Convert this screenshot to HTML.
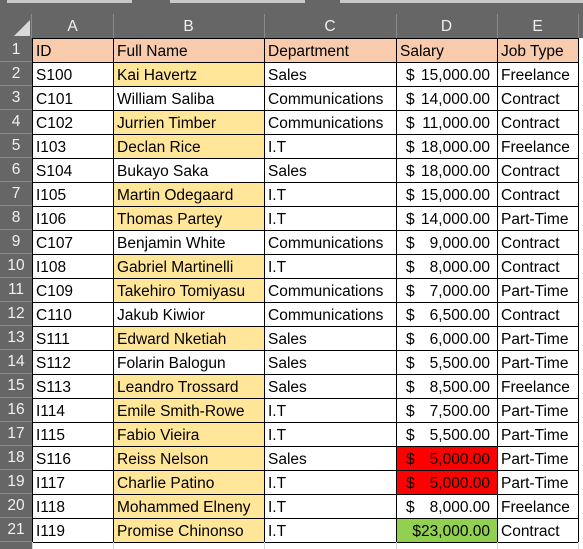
<!DOCTYPE html>
<html><head><meta charset="utf-8"><style>
body{margin:0;width:583px;height:549px;overflow:hidden;background:#fff;font-family:"Liberation Sans",Arial,sans-serif;}
#top{position:absolute;left:0;top:0;width:583px;height:38px;background:#666666;}
.tab{position:absolute;top:0;height:3px;background:#c9c9c9;}
.colh{position:absolute;top:14px;height:24px;color:#f0f0f0;font-size:15.5px;line-height:26px;text-align:center;border-right:1px solid #8a8a8a;box-sizing:border-box;}
.rowh{position:absolute;left:0;width:32px;height:24px;background:#666666;color:#f0f0f0;font-size:15.5px;line-height:24px;text-align:center;border-bottom:1px solid #8a8a8a;box-sizing:border-box;}
.cell{position:absolute;height:25px;border:1px solid #000;box-sizing:border-box;font-size:15.5px;line-height:25px;padding-left:3px;color:#000;white-space:nowrap;overflow:hidden;}
.sal{display:flex;justify-content:space-between;padding:0 7px 0 9px;}
</style></head><body>
<div id="top">
<div class="tab" style="left:7px;width:125px"></div>
<div class="tab" style="left:170px;width:135px"></div>
<div class="tab" style="left:340px;width:243px"></div>
<svg style="position:absolute;left:14px;top:20px" width="16" height="16"><polygon points="16,0 16,16 0,16" fill="#d9d9d9"/></svg>
</div>
<div id="sheet"></div>
<script>
const ids=["ID","S100","C101","C102","I103","S104","I105","I106","C107","I108","C109","C110","S111","S112","S113","I114","I115","S116","I117","I118","I119"];
const names=["Full Name","Kai Havertz","William Saliba","Jurrien Timber","Declan Rice","Bukayo Saka","Martin Odegaard","Thomas Partey","Benjamin White","Gabriel Martinelli","Takehiro Tomiyasu","Jakub Kiwior","Edward Nketiah","Folarin Balogun","Leandro Trossard","Emile Smith-Rowe","Fabio Vieira","Reiss Nelson","Charlie Patino","Mohammed Elneny","Promise Chinonso"];
const depts=["Department","Sales","Communications","Communications","I.T","Sales","I.T","I.T","Communications","I.T","Communications","Communications","Sales","Sales","Sales","I.T","I.T","Sales","I.T","I.T","I.T"];
const salaries=["Salary",15000,14000,11000,18000,18000,15000,14000,9000,8000,7000,6500,6000,5500,8500,7500,5500,5000,5000,8000,23000];
const jobs=["Job Type","Freelance","Contract","Contract","Freelance","Contract","Contract","Part-Time","Contract","Contract","Part-Time","Contract","Part-Time","Part-Time","Freelance","Part-Time","Part-Time","Part-Time","Part-Time","Freelance","Contract"];
const yellowRows=[2,4,5,7,8,10,11,13,15,16,17,18,19,20,21];
const letters=["A","B","C","D","E"];
const colX=[32,113,264,396,497,578];
const top0=38,rh=24;
const sheet=document.getElementById('sheet');
const topbar=document.getElementById('top');
letters.forEach((L,i)=>{
  const d=document.createElement('div');d.className='colh';
  
  
  d.style.left=colX[i]+'px';d.style.width=(colX[i+1]-colX[i]+1)+'px';d.textContent=L;
  topbar.appendChild(d);
});
const sep=document.createElement('div');sep.style.cssText='position:absolute;left:31px;top:14px;width:1px;height:24px;background:#8a8a8a';


topbar.appendChild(sep);
function fmt(v){return v.toLocaleString('en-US',{minimumFractionDigits:2,maximumFractionDigits:2});}
for(let r=0;r<21;r++){
  const y=top0+r*rh;
  const h=document.createElement('div');h.className='rowh';h.style.top=y+'px';h.textContent=r+1;
  
  
  sheet.appendChild(h);
  const vals=[ids[r],names[r],depts[r],salaries[r],jobs[r]];
  for(let c=0;c<5;c++){
    const d=document.createElement('div');d.className='cell';
    
    
    d.style.left=colX[c]+'px';d.style.top=y+'px';d.style.width=(colX[c+1]-colX[c]+1)+'px';
    let bg='#fff';
    if(r===0)bg='#f8cbad';
    else if(c===1&&yellowRows.includes(r+1))bg='#ffe699';
    else if(c===3&&salaries[r]<=5000)bg='#ff0000';
    else if(c===3&&salaries[r]>=20000)bg='#92d050';
    d.style.background=bg;
    if(c===3&&r>0){d.classList.add('sal');
      if(salaries[r]>=10000){d.innerHTML='<span>$</span><span style="margin-left:auto">'+fmt(vals[c])+'</span>';}
      else d.innerHTML='<span>$</span><span>'+fmt(vals[c])+'</span>';
      if(salaries[r]>=20000){d.style.justifyContent='flex-end';d.innerHTML='<span>$'+fmt(vals[c])+'</span>';}
    } else d.textContent=vals[c];
    sheet.appendChild(d);
  }
}
const bottom=document.createElement('div');
bottom.style.cssText='position:absolute;left:0;top:542px;width:32px;height:7px;background:#666';


sheet.appendChild(bottom);
for(let c=0;c<6;c++){const l=document.createElement('div');l.style.cssText='position:absolute;top:542px;height:7px;width:1px;background:#d4d4d4;left:'+colX[c]+'px';


sheet.appendChild(l);}
</script>
</body></html>
